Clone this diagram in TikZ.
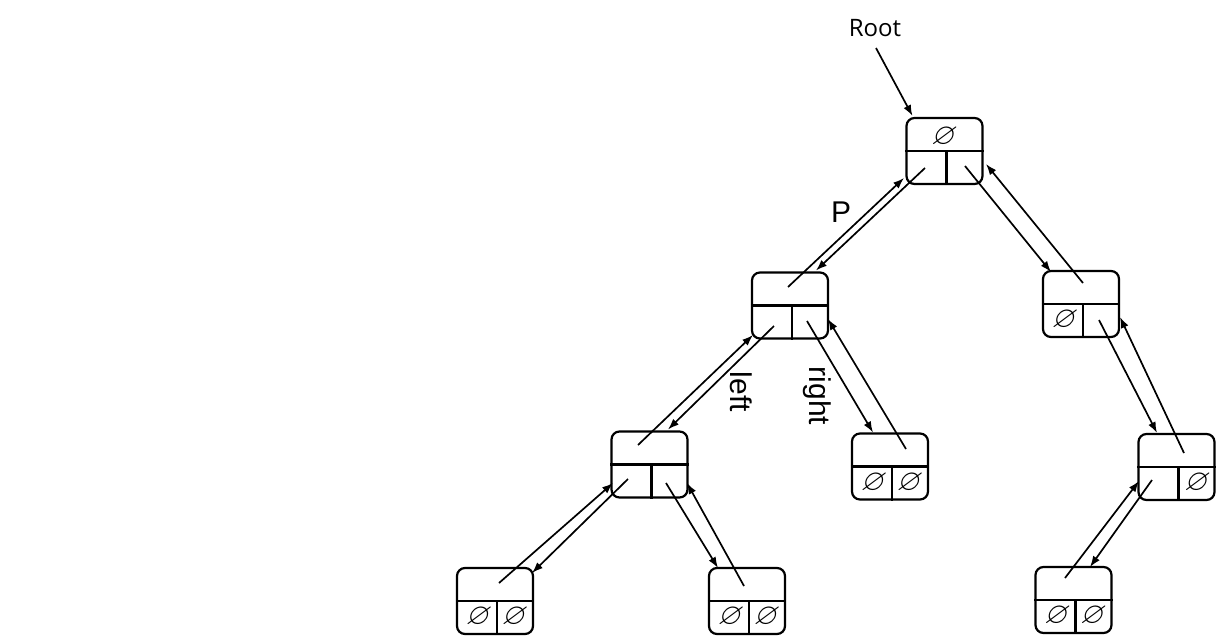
\documentclass[tikz,border=0pt]{standalone}
\usepackage{amssymb}
\usepackage{fontspec}
\setmainfont{Liberation Sans}
\newfontfamily\rootfont{Open Sans}
\usetikzlibrary{arrows.meta}
\begin{document}
\begin{tikzpicture}[x=1pt,y=-1pt,
  tn/.style={draw, line width=2.2pt, rounded corners=8pt, minimum width=76pt, minimum height=66pt, inner sep=0pt},
  div/.style={line width=2.2pt},
  ptr/.style={line width=1.7pt, -{Latex[length=11pt,width=8pt]}},
  es/.style={inner sep=0pt, xslant=0.2, font=\fontsize{30}{32}\selectfont},
  lbl/.style={inner sep=0pt, font=\fontsize{30}{34}\selectfont}]
\useasboundingbox (0,0) rectangle (1219,641);
% tree nodes
\node[tn] (root) at (944.5,151) {};
\node[tn] (P)    at (790,305.5) {};
\node[tn] (R1)   at (1081,304) {};
\node[tn] (L2)   at (649.5,464.5) {};
\node[tn] (Rc)   at (890,466.5) {};
\node[tn] (R2)   at (1176.5,467) {};
\node[tn] (LL)   at (495,601) {};
\node[tn] (LR)   at (747,601) {};
\node[tn] (RL)   at (1073.5,600) {};
\foreach \n in {root,P,R1,L2,Rc,R2,LL,LR,RL}{
  \draw[div] (\n.west) -- (\n.east);
  \draw[div] ([xshift=2pt]\n.center) -- ([xshift=2pt]\n.south);
}
% null markers
\node[es] (root-e) at ([shift={(0,-14)}]root.center) {$\varnothing$};
\node[es] (R1-l) at ([shift={(-16,16)}]R1.center) {$\varnothing$};
\node[es] (R2-r) at ([shift={(21,16)}]R2.center) {$\varnothing$};
\foreach \n in {Rc,LL,LR,RL}{
  \node[es] (\n-l) at ([shift={(-16,16)}]\n.center) {$\varnothing$};
  \node[es] (\n-r) at ([shift={(20,16)}]\n.center) {$\varnothing$};
}
% root label
\node[inner sep=0pt, font=\rootfont\fontsize{24}{26}\selectfont] (rootlbl) at (875,28) {Root};
\draw[ptr] ([shift={(1,20)}]rootlbl.center) -- ([shift={(-32,-35)}]root.center);
% root <-> P
\draw[ptr] ([shift={(-19.5,17)}]root.center) -- ([shift={(26,-35)}]P.center);
\draw[ptr] ([shift={(-2,-18.5)}]P.center) -- ([shift={(-40.5,27)}]root.center);
% root <-> R1
\draw[ptr] ([shift={(20.5,15)}]root.center) -- ([shift={(-30,-32)}]R1.center);
\draw[ptr] ([shift={(2,-21)}]R1.center) -- ([shift={(41.5,13)}]root.center);
% P <-> L2
\draw[ptr] ([shift={(-16,20.5)}]P.center) -- ([shift={(18.5,-35)}]L2.center);
\draw[ptr] ([shift={(-11.5,-19.5)}]L2.center) -- ([shift={(-37,29.5)}]P.center);
% P <-> Rc
\draw[ptr] ([shift={(17,15.5)}]P.center) -- ([shift={(-17,-34)}]Rc.center);
\draw[ptr] ([shift={(16,-17.5)}]Rc.center) -- ([shift={(38,13.5)}]P.center);
% L2 <-> LL
\draw[ptr] ([shift={(-21.5,14.5)}]L2.center) -- ([shift={(37,-28)}]LL.center);
\draw[ptr] ([shift={(4,-18)}]LL.center) -- ([shift={(-36.5,18.5)}]L2.center);
% L2 <-> LR
\draw[ptr] ([shift={(16.5,18.5)}]L2.center) -- ([shift={(-29,-33)}]LR.center);
\draw[ptr] ([shift={(-3,-15)}]LR.center) -- ([shift={(37.5,18.5)}]L2.center);
% R1 <-> R2
\draw[ptr] ([shift={(18,16)}]R1.center) -- ([shift={(-19.5,-34)}]R2.center);
\draw[ptr] ([shift={(7.5,-14)}]R2.center) -- ([shift={(39,13)}]R1.center);
% R2 <-> RL
\draw[ptr] ([shift={(-24.5,13)}]R2.center) -- ([shift={(16.5,-33)}]RL.center);
\draw[ptr] ([shift={(-8.5,-22)}]RL.center) -- ([shift={(-37.5,14)}]R2.center);
% labels
\node[lbl] (lblP) at (841,212) {P};
\node[lbl, rotate=-90] (lblleft) at (741,392) {left};
\node[lbl, rotate=-90] (lblright) at (817,396) {right};
\end{tikzpicture}
\end{document}
